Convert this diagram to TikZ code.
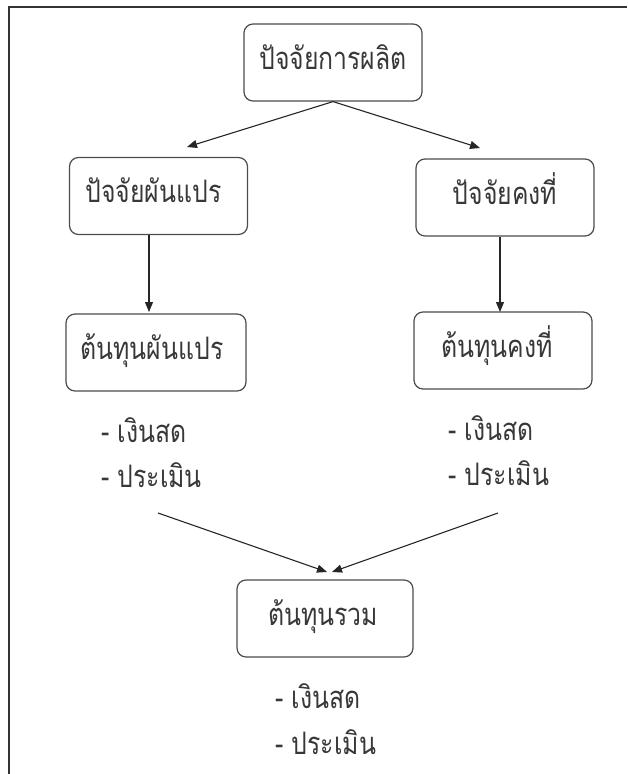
\documentclass[tikz,border=0pt]{standalone}
\usepackage{fontspec}
\newfontfamily\thaifont[Script=Thai,FakeStretch=0.8]{Loma}
\usetikzlibrary{arrows.meta}
\begin{document}
\begin{tikzpicture}[x=1pt,y=-1pt,
  box/.style={draw=black!70, line width=1.2pt, rounded corners=9pt, inner sep=0pt,
    text height=45pt, text depth=32pt, font=\thaifont\fontsize{31}{36}\selectfont, text=black!78},
  arr/.style={-{Triangle[length=10pt,width=8pt]}, line width=1.1pt, draw=black!85},
  item/.style={anchor=base west, inner sep=0pt, font=\thaifont\fontsize{31}{36}\selectfont, text=black!78},
  frame/.style={draw=black!80, line width=2pt}]
\useasboundingbox (0,0) rectangle (627,774);
% frame (top and left edges)
\coordinate (fTL) at (9,7);
\coordinate (fTR) at (627,7);
\coordinate (fBL) at (9,774);
\draw[frame] (fTR) -- (fTL) -- (fBL);
% boxes
\node[box, minimum width=178pt] (top) at (333,62.5) {ปัจจัยการผลิต};
\node[box, minimum width=178pt] (l1) at (158.5,196) {ปัจจัยผันแปร\hspace*{10pt}};
\node[box, minimum width=178pt] (r1) at (505,197.5) {ปัจจัยคงที่};
\node[box, minimum width=180pt] (l2) at (156,352.5) {ต้นทุนผันแปร\hspace*{8pt}};
\node[box, minimum width=178pt] (r2) at (503,350.5) {ต้นทุนคงที่\hspace*{12pt}};
\node[box, minimum width=176pt] (bot) at (325,618.5) {ต้นทุนรวม\hspace*{4pt}};
% arrow end points
\coordinate (tipL1) at (187,147);
\coordinate (tipR1) at (480,148);
\coordinate (srcL) at (149,235);
\coordinate (tipL2) at (149,312);
\coordinate (srcR) at (500,237);
\coordinate (tipR2) at (500,312);
\coordinate (startL) at (158,513);
\coordinate (startR) at (498,513);
\coordinate (tipBL) at (327,572);
\coordinate (tipBR) at (332,572);
\draw[arr] (top.south) -- (tipL1);
\draw[arr] (top.south) -- (tipR1);
\draw[arr] (srcL) -- (tipL2);
\draw[arr] (srcR) -- (tipR2);
\draw[arr] (startL) -- (tipBL);
\draw[arr] (startR) -- (tipBR);
% lists
\node[item] (la) at (101,442) {- เงินสด};
\node[item] (lb) at (101,487) {- ประเมิน};
\node[item] (ra) at (448,440) {- เงินสด};
\node[item] (rb) at (448,485) {- ประเมิน};
\node[item] (ba) at (275,708) {- เงินสด};
\node[item] (bb) at (275,754) {- ประเมิน};
\end{tikzpicture}
\end{document}
